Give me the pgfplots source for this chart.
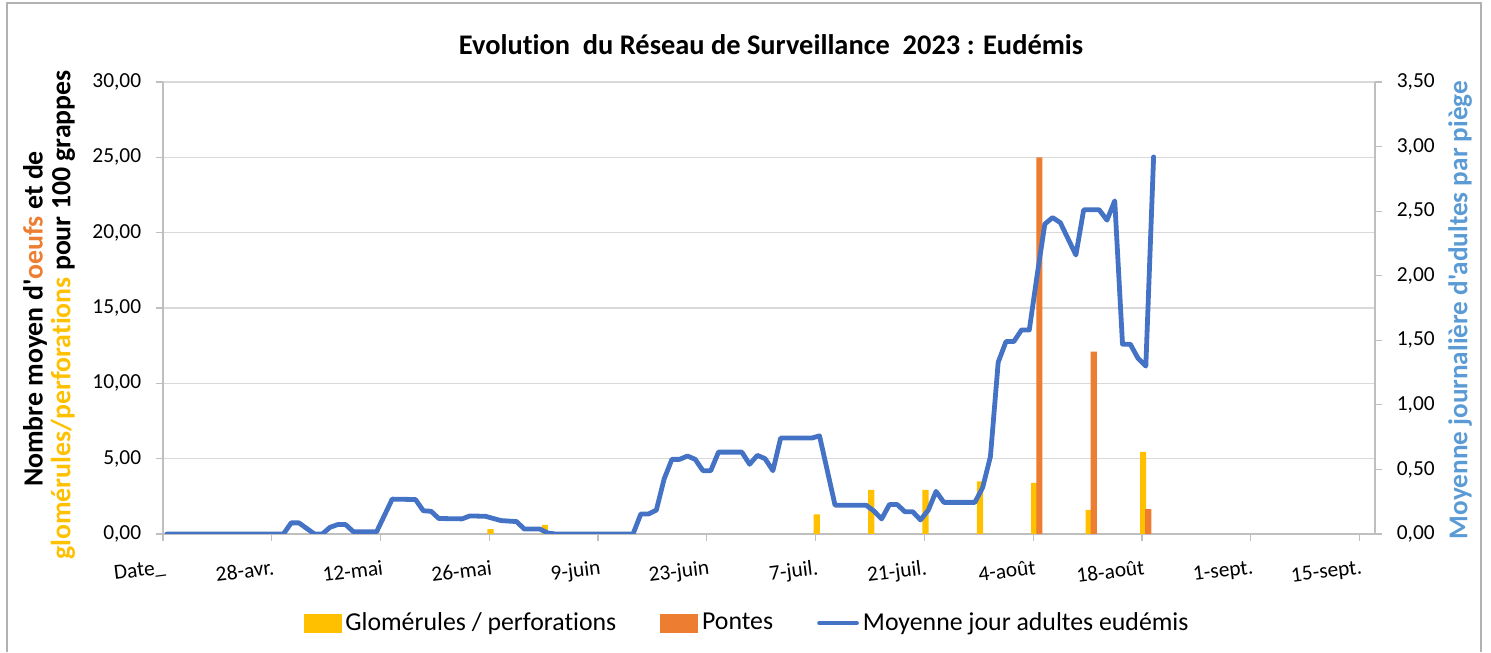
\documentclass[border=0pt]{standalone}
\usepackage{pgfplots}
\pgfplotsset{compat=1.18}
\usepackage{fontspec}
\setmainfont{Carlito}[Ligatures={TeXOff,CommonOff}]
\definecolor{cYellow}{HTML}{FFC000}
\definecolor{cOrange}{HTML}{ED7D31}
\definecolor{cBlue}{HTML}{4472C4}
\definecolor{cLBlue}{HTML}{5B9BD5}
\definecolor{cGrid}{HTML}{D9D9D9}
\definecolor{cAxis}{HTML}{BFBFBF}
\pgfplotsset{
  base/.style={scale only axis, width=606pt, height=226pt, at={(81.5pt,59pt)}, anchor=south west,
    xmin=0, xmax=156, ymin=0, tick align=outside, major tick length=3.4pt,
    tick style={cAxis, line width=0.6pt}, axis line style={cAxis, line width=0.8pt},
    ticklabel style={font=\fontsize{10.7}{12}\selectfont},
    /pgf/number format/fixed, /pgf/number format/fixed zerofill, /pgf/number format/precision=2,
    /pgf/number format/use comma, /pgf/number format/assume math mode=true}
}
\begin{document}
\begin{tikzpicture}[x=0.5pt,y=0.5pt]
\useasboundingbox (0,0) rectangle (1491,652);
\draw[gray!60, line width=1pt] (7,0) -- (7,649) -- (1481,649) -- (1481,0);
\begin{axis}[base, ymax=30, ytick={0,5,...,30}, axis y line*=left, axis x line*=bottom,
  ymajorgrids, grid style={cGrid, line width=0.8pt},
  xtick={0,14,...,154},
  xticklabels={Date\_,28-avr.,12-mai,26-mai,9-juin,23-juin,7-juil.,21-juil.,4-août,18-août,1-sept.,15-sept.},
  xticklabel style={rotate=7, anchor=north east, yshift=-6pt, xshift=3pt},
  yticklabel style={xshift=-4pt}]
\addplot[ybar, bar width=0.8, bar shift=0pt, fill=cYellow, draw=none] coordinates {
 (42.15,0.33) (49.15,0.6) (84.15,1.3) (91.15,2.93) (98.15,2.93) (105.15,3.5) (112.15,3.4) (119.15,1.6) (126.15,5.45)};
\addplot[ybar, bar width=0.8, bar shift=0pt, fill=cOrange, draw=none] coordinates {
 (112.8,25.0) (119.8,12.1) (126.8,1.65)};
\end{axis}
\begin{axis}[base, ymax=3.5, ytick={0,0.5,...,3.5}, axis y line*=right, axis x line=none,
  yticklabel style={xshift=4pt},
  legend columns=3,
  legend style={at={(0.4827,-0.197)}, anchor=center, draw=none, fill=none,
    font=\fontsize{12.9}{15}\selectfont, inner sep=0pt,
    /tikz/every even column/.append style={column sep=20pt}}]
\addlegendimage{legend image code/.code={\fill[cYellow] (0pt,-4.5pt) rectangle (18.5pt,4.5pt);}}
\addlegendentry{Glomérules / perforations}
\addlegendimage{legend image code/.code={\fill[cOrange] (0pt,-4.5pt) rectangle (18.5pt,4.5pt);}}
\addlegendentry{Pontes}
\addplot[cBlue, line width=2.4pt, line join=round, line cap=round,
  legend image code/.code={\draw[cBlue,line width=2.4pt,line cap=round] (0pt,0pt)--(18.5pt,0pt);}] coordinates {
(0.5,0) (15.5,0) (16.5,0.086) (17.5,0.086) (19.5,0) (20.5,0) (21.5,0.052) (22.5,0.073) (23.5,0.073)
(24.5,0.018) (27.5,0.018) (29.5,0.27) (32.5,0.267) (33.5,0.18) (34.5,0.176) (35.5,0.12) (38.5,0.117)
(39.5,0.14) (41.5,0.137) (43.5,0.104) (45.5,0.096) (46.5,0.039) (48.5,0.039) (49.5,0.008) (50.5,0)
(60.5,0) (61.5,0.155) (62.5,0.155) (63.5,0.185) (64.5,0.426) (65.5,0.578) (66.5,0.578) (67.5,0.604)
(68.5,0.578) (69.5,0.49) (70.5,0.49) (71.5,0.634) (74.5,0.634) (75.5,0.54) (76.5,0.609) (77.5,0.583)
(78.5,0.49) (79.5,0.743) (83.5,0.743) (84.5,0.76) (86.5,0.223) (90.5,0.223) (91.5,0.178) (92.5,0.117)
(93.5,0.228) (94.5,0.228) (95.5,0.172) (96.5,0.172) (97.5,0.109) (98.5,0.185) (99.5,0.33) (100.5,0.245)
(104.5,0.245) (105.5,0.36) (106.5,0.60) (107.5,1.33) (108.5,1.49) (109.5,1.49) (110.5,1.58) (111.5,1.58)
(112.5,2.0) (113.5,2.40) (114.5,2.45) (115.5,2.41) (117.5,2.16) (118.5,2.51) (120.5,2.51) (121.5,2.43)
(122.5,2.58) (123.5,1.47) (124.5,1.47) (125.5,1.36) (126.5,1.30) (127.5,2.92)};
\addlegendentry{Moyenne jour adultes eudémis}
\end{axis}
\node[font=\bfseries\fontsize{14.2}{16}\selectfont] at (771,607) {Evolution\ \ du Réseau de Surveillance\ \ 2023 : Eudémis};
\node[rotate=90, font=\bfseries\fontsize{13.9}{16}\selectfont] at (35,333) {Nombre moyen d'\textcolor{cOrange}{oeufs} et de};
\node[rotate=90, font=\bfseries\fontsize{13.9}{16}\selectfont] at (63,337) {\textcolor{cYellow}{glomérules/perforations} pour 100 grappes};
\node[rotate=90, font=\bfseries\fontsize{13.6}{16}\selectfont, text=cLBlue] at (1460,342) {Moyenne journalière d'adultes par piège};
\end{tikzpicture}
\end{document}
